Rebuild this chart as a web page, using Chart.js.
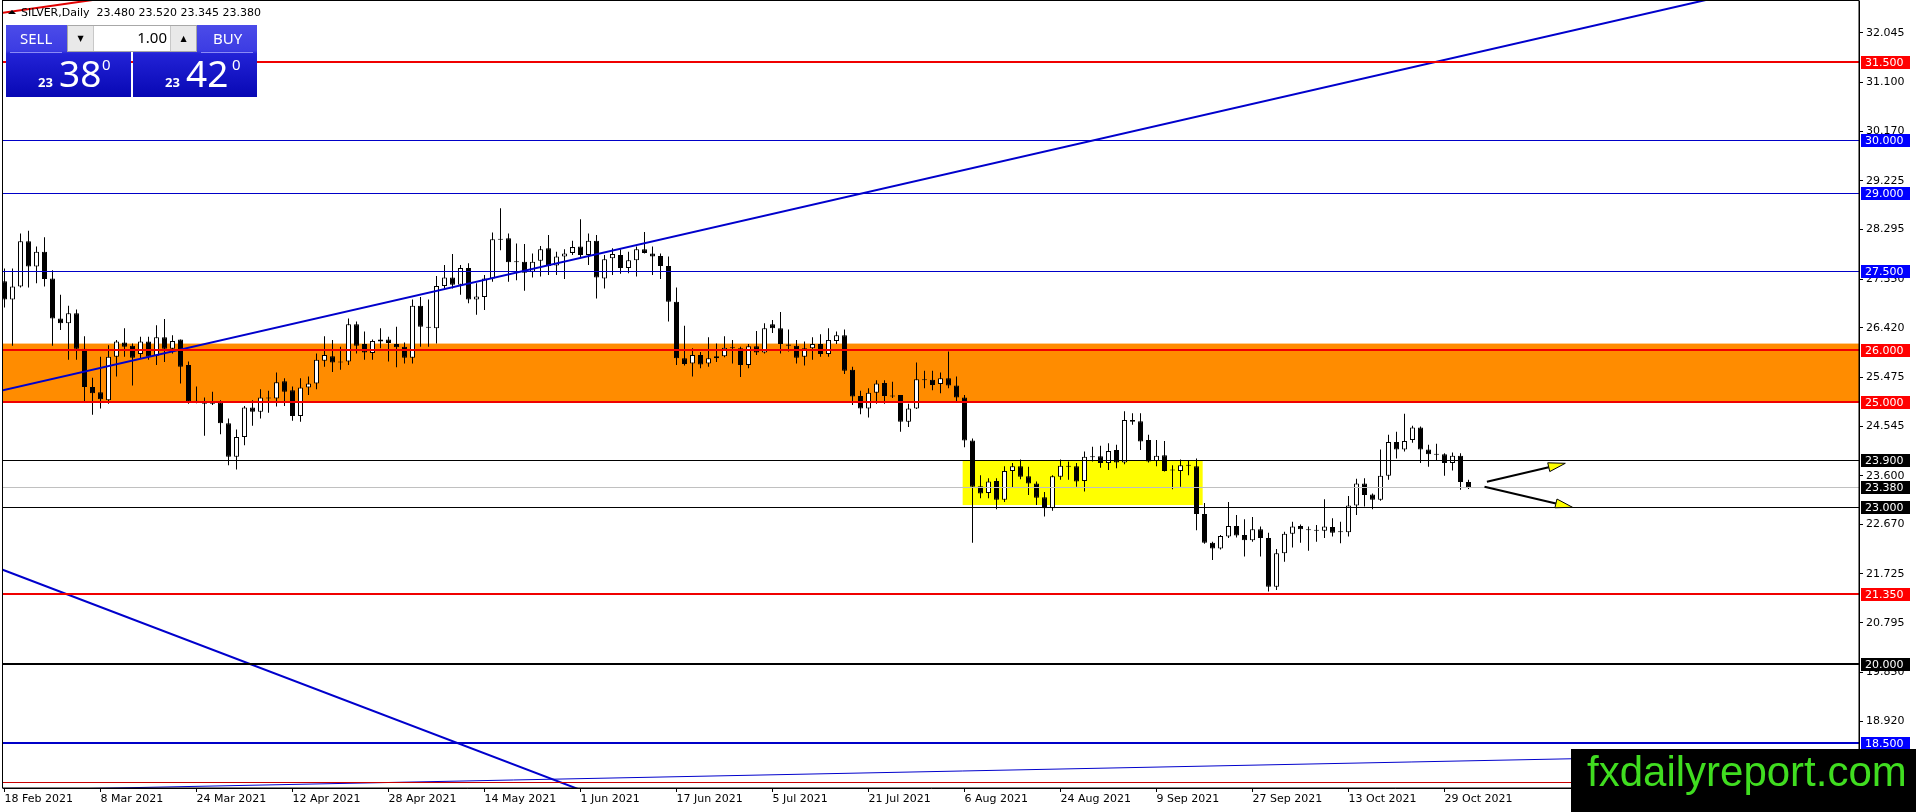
<!DOCTYPE html>
<html>
<head>
<meta charset="utf-8">
<title>SILVER, Daily</title>
<script src="https://cdn.jsdelivr.net/npm/chart.js"></script>
<style>
  body { margin: 0; background: #fff; }
  #wrap { position: relative; width: 1916px; height: 812px; overflow: hidden; background: #fff; }
  #chart { position: absolute; left: 0; top: 0; }
  .hdr { position: absolute; left: 21px; top: 7px; font: 11px/11px "DejaVu Sans", sans-serif; color: #000; white-space: pre; }
  .tri { position: absolute; left: 8px; top: 10px; width: 0; height: 0;
         border-left: 4px solid transparent; border-right: 4px solid transparent; border-bottom: 4px solid #000; }
  .btn { position: absolute; top: 25px; height: 72px;
         background: linear-gradient(to bottom, #4b4be9 0%, #3c3ce3 36%, #2222d6 40%, #0808b4 100%); }
  .btn .sep { position: absolute; top: 27px; height: 1px; background: #8a8af5; }
  .btn span { position: absolute; color: #fff; font-family: "Noto Sans", sans-serif; line-height: 1; white-space: pre; }
  .cap { font-size: 15px; color: #eef; }
  .small { font-size: 13px; font-weight: bold; }
  .big { font-size: 37px; }
  .sup { font-size: 15px; }
  .spin { position: absolute; left: 67px; top: 25px; width: 130px; height: 27px; box-sizing: border-box;
          border: 1px solid #a8a8a8; background: #fff; font-family: "Noto Sans", sans-serif; }
  .spin .b { position: absolute; top: 0; width: 25px; height: 25px; background: #e9e9e9;
             font: 8px/25px "DejaVu Sans", sans-serif; text-align: center; color: #000; }
  .spin .v { position: absolute; left: 26px; top: 4px; width: 73px; text-align: right; font-size: 15px; line-height: 1; color: #000; }
  .wm { position: absolute; left: 1571px; top: 749px; width: 345px; height: 63px; background: #000; }
  .wm span { position: absolute; left: 16px; top: 2px; font: 42px/42px "Liberation Sans", Arial, sans-serif; color: #40dd20; white-space: pre; }
</style>
</head>
<body>
<div id="wrap">
  <canvas id="chart" width="1916" height="812"></canvas>

  <div class="tri"></div>
  <div class="hdr">SILVER,Daily  23.480 23.520 23.345 23.380</div>

  <div class="btn" style="left:6px;width:125px">
    <div class="sep" style="left:4px;width:52px"></div>
    <span class="cap" style="left:14px;top:6px">SELL</span>
    <span class="small" style="left:32px;top:51px">23</span>
    <span class="big" style="left:53px;top:29px">38</span>
    <span class="sup" style="left:96px;top:32px">0</span>
  </div>
  <div class="btn" style="left:133px;width:124px">
    <div class="sep" style="left:68px;width:52px"></div>
    <span class="cap" style="left:80px;top:6px">BUY</span>
    <span class="small" style="left:32px;top:51px">23</span>
    <span class="big" style="left:53px;top:29px">42</span>
    <span class="sup" style="left:99px;top:32px">0</span>
  </div>
  <div class="spin">
    <div class="b" style="left:0;border-right:1px solid #c8c8c8">▼</div>
    <div class="v">1.00</div>
    <div class="b" style="right:0;border-left:1px solid #c8c8c8">▲</div>
  </div>

  <div class="wm"><span>fxdailyreport.com</span></div>
</div>

<script>
// Daily candles, bar 0 = 18 Feb 2021, last bar = 3 Nov 2021
const opens = [
  27.31, 26.96, 27.21, 28.07, 27.59, 27.87, 27.36, 26.60, 26.51, 26.70,
  26.02, 25.29, 25.19, 25.04, 25.87, 26.14, 26.08, 25.92, 26.16, 25.89,
  26.24, 26.02, 26.20, 25.71, 25.02, 25.01, 24.97, 25.00, 24.60, 23.96,
  24.34, 24.90, 24.82, 25.09, 25.07, 25.40, 25.23, 24.74, 25.28, 25.36,
  25.79, 25.88, 25.78, 25.78, 26.49, 26.11, 25.94, 26.16, 26.20, 26.11,
  26.06, 25.85, 26.84, 26.44, 26.41, 27.22, 27.38, 27.24, 27.56, 26.96,
  27.01, 27.36, 28.11, 28.13, 27.68, 27.68, 27.49, 27.70, 27.94, 27.61,
  27.78, 27.85, 27.97, 27.81, 28.08, 27.36, 27.75, 27.81, 27.56, 27.71,
  27.92, 27.84, 27.79, 27.60, 26.92, 25.84, 25.74, 25.90, 25.74, 25.84,
  25.88, 26.04, 26.03, 25.71, 26.07, 25.95, 26.49, 26.41, 26.10, 26.08,
  25.87, 26.03, 26.11, 25.92, 26.17, 26.28, 25.62, 25.12, 24.88, 25.18,
  25.37, 25.12, 25.14, 24.63, 24.88, 25.43, 25.43, 25.35, 25.46, 25.32,
  25.09, 24.27, 23.40, 23.27, 23.50, 23.14, 23.69, 23.78, 23.59, 23.45,
  23.19, 22.98, 23.58, 23.79, 23.78, 23.50, 23.96, 23.97, 23.84, 24.09,
  23.85, 24.66, 24.64, 24.28, 23.88, 23.99, 23.71, 23.69, 23.80, 23.78,
  22.87, 22.32, 22.21, 22.44, 22.64, 22.47, 22.37, 22.58, 22.41, 21.48,
  22.12, 22.49, 22.64, 22.57, 22.56, 22.55, 22.62, 22.53, 22.52, 23.03,
  23.45, 23.24, 23.14, 23.60, 24.24, 24.10, 24.28, 24.52, 24.10, 24.01,
  24.01, 23.84, 23.98, 23.48
];
const highs = [
  27.55, 27.55, 28.22, 28.27, 27.97, 28.15, 27.52, 27.05, 26.84, 26.77,
  26.26, 25.47, 25.87, 26.09, 26.19, 26.41, 26.12, 26.25, 26.25, 26.47,
  26.59, 26.28, 26.20, 25.78, 25.30, 25.09, 25.20, 25.04, 24.69, 24.48,
  24.93, 25.04, 25.25, 25.22, 25.57, 25.46, 25.30, 25.46, 25.49, 25.93,
  26.26, 26.19, 26.06, 26.60, 26.54, 26.35, 26.20, 26.41, 26.25, 26.44,
  26.14, 26.96, 27.01, 26.96, 27.41, 27.62, 27.83, 27.62, 27.65, 27.27,
  27.43, 28.24, 28.70, 28.22, 28.03, 28.02, 27.84, 27.98, 28.19, 27.87,
  27.92, 28.08, 28.49, 28.22, 28.19, 27.81, 27.94, 27.92, 27.87, 27.97,
  28.25, 27.97, 27.84, 27.78, 27.19, 26.46, 26.03, 25.96, 26.24, 26.12,
  26.26, 26.19, 26.06, 26.11, 26.36, 26.51, 26.57, 26.72, 26.39, 26.19,
  26.16, 26.24, 26.30, 26.41, 26.35, 26.39, 25.68, 25.22, 25.27, 25.42,
  25.42, 25.39, 25.14, 24.97, 25.76, 25.60, 25.60, 25.57, 25.97, 25.49,
  25.14, 24.31, 23.61, 23.55, 23.55, 23.78, 23.84, 23.91, 23.77, 23.49,
  23.29, 23.61, 23.91, 23.87, 23.84, 24.06, 24.15, 24.17, 24.22, 24.19,
  24.83, 24.79, 24.79, 24.38, 24.28, 24.26, 23.80, 23.91, 23.90, 23.93,
  23.08, 22.34, 22.47, 23.10, 22.85, 22.77, 22.81, 22.63, 22.51, 22.20,
  22.53, 22.72, 22.67, 22.63, 22.66, 23.15, 22.79, 22.72, 23.21, 23.54,
  23.55, 23.26, 24.10, 24.38, 24.44, 24.78, 24.55, 24.54, 24.19, 24.21,
  24.03, 24.04, 24.03, 23.52
];
const lows = [
  26.81, 26.08, 27.19, 27.19, 27.27, 27.21, 26.08, 26.38, 25.81, 25.81,
  25.01, 24.76, 24.88, 24.97, 25.49, 25.87, 25.32, 25.84, 25.81, 25.71,
  25.77, 25.93, 25.36, 24.97, 24.98, 24.36, 24.95, 24.39, 23.80, 23.72,
  24.18, 24.55, 24.69, 24.80, 24.92, 24.93, 24.65, 24.63, 25.14, 25.25,
  25.68, 25.58, 25.62, 25.71, 25.93, 25.81, 25.81, 26.03, 25.78, 25.67,
  25.74, 25.74, 26.06, 26.06, 26.12, 27.17, 27.17, 27.05, 26.89, 26.67,
  26.76, 27.30, 27.90, 27.30, 27.33, 27.13, 27.38, 27.40, 27.43, 27.43,
  27.35, 27.81, 27.75, 27.62, 26.98, 27.17, 27.43, 27.45, 27.46, 27.40,
  27.84, 27.43, 27.35, 26.54, 25.71, 25.70, 25.49, 25.65, 25.68, 25.77,
  25.86, 25.74, 25.48, 25.65, 25.90, 25.93, 26.32, 25.93, 25.97, 25.74,
  25.70, 25.81, 25.87, 25.87, 26.11, 25.54, 24.95, 24.77, 24.71, 24.97,
  24.97, 25.08, 24.44, 24.53, 24.87, 25.27, 25.23, 25.17, 25.27, 25.01,
  24.14, 22.32, 23.17, 23.17, 22.96, 23.10, 23.38, 23.53, 23.23, 23.04,
  22.82, 22.93, 23.52, 23.52, 23.39, 23.30, 23.87, 23.75, 23.71, 23.74,
  23.82, 24.57, 24.09, 23.85, 23.78, 23.68, 23.34, 23.39, 23.61, 22.56,
  22.30, 21.99, 22.19, 22.41, 22.42, 22.06, 22.34, 22.06, 21.39, 21.42,
  21.96, 22.23, 22.32, 22.17, 22.34, 22.41, 22.44, 22.31, 22.44, 22.85,
  23.01, 22.96, 23.12, 23.52, 23.93, 24.06, 24.23, 23.84, 23.77, 23.90,
  23.60, 23.70, 23.33, 23.345
];
const closes = [
  26.96, 27.21, 28.07, 27.59, 27.87, 27.35, 26.60, 26.51, 26.70, 26.02,
  25.29, 25.17, 25.06, 25.87, 26.16, 26.06, 25.85, 26.16, 25.87, 26.24,
  26.02, 26.17, 25.68, 25.01, 25.01, 24.97, 25.00, 24.60, 23.96, 24.34,
  24.90, 24.82, 25.09, 25.07, 25.38, 25.20, 24.74, 25.28, 25.36, 25.81,
  25.90, 25.76, 25.76, 26.49, 26.08, 25.95, 26.17, 26.20, 26.13, 26.05,
  25.85, 26.84, 26.44, 26.42, 27.22, 27.38, 27.24, 27.56, 26.96, 27.02,
  27.36, 28.11, 28.10, 27.67, 27.67, 27.47, 27.68, 27.92, 27.60, 27.78,
  27.84, 27.96, 27.81, 28.08, 27.38, 27.73, 27.83, 27.56, 27.71, 27.92,
  27.85, 27.78, 27.60, 26.92, 25.84, 25.73, 25.90, 25.72, 25.84, 25.88,
  26.04, 26.03, 25.71, 26.07, 25.95, 26.41, 26.41, 26.11, 26.08, 25.85,
  26.03, 26.11, 25.92, 26.19, 26.28, 25.60, 25.11, 24.88, 25.18, 25.36,
  25.12, 25.11, 24.63, 24.88, 25.44, 25.42, 25.33, 25.46, 25.32, 25.09,
  24.27, 23.39, 23.26, 23.49, 23.14, 23.69, 23.78, 23.58, 23.45, 23.18,
  22.98, 23.59, 23.79, 23.77, 23.49, 23.96, 23.95, 23.84, 24.07, 23.85,
  24.66, 24.63, 24.25, 23.87, 23.98, 23.69, 23.70, 23.80, 23.79, 22.87,
  22.32, 22.21, 22.45, 22.64, 22.46, 22.37, 22.58, 22.41, 21.48, 22.12,
  22.49, 22.63, 22.58, 22.56, 22.55, 22.63, 22.51, 22.52, 23.03, 23.45,
  23.23, 23.14, 23.60, 24.24, 24.10, 24.26, 24.52, 24.10, 24.01, 24.00,
  23.84, 23.98, 23.48, 23.38
];

// bottom axis: a date every 12 bars
const dateTicks = [0, 12, 24, 36, 48, 60, 72, 84, 96, 108, 120, 132, 144, 156, 168, 180];
const dateLabels = ['18 Feb 2021', '8 Mar 2021', '24 Mar 2021', '12 Apr 2021', '28 Apr 2021', '14 May 2021',
  '1 Jun 2021', '17 Jun 2021', '5 Jul 2021', '21 Jul 2021', '6 Aug 2021', '24 Aug 2021',
  '9 Sep 2021', '27 Sep 2021', '13 Oct 2021', '29 Oct 2021'];

// price axis ticks
const priceTicks = [32.045, 31.100, 30.170, 29.225, 28.295, 27.350, 26.420, 25.475, 24.545,
  23.600, 22.670, 21.725, 20.795, 19.850, 18.920];

// horizontal lines (last one has no price tag)
const levelPrices = [31.5, 30.0, 29.0, 27.5, 26.0, 25.0, 23.9, 23.38, 23.0, 21.35, 20.0, 18.5, 17.751];

// zones: [low, high] and [barFrom, barTo, low, high]
const orangeZone = [25.0, 26.12];
const yellowBox = [119.77, 149.77, 23.04, 23.89];

// trend lines and arrows as [bar, price] pairs
const trendRise = [[-0.5, 25.22], [232, 33.35]];
const trendFall = [[-0.3, 21.81], [80, 17.14]];
const trendBottom = [[0, 17.60], [232, 18.31]];
const trendRed = [[-0.3, 32.43], [15, 32.76]];
const arrowUp = [[185.3, 23.485], [195.1, 23.836]];
const arrowDown = [[185.0, 23.39], [196.0, 22.997]];

const levelStyle = [
  { color: '#f00000', width: 2, tag: '#ff0000' },
  { color: '#0000c8', width: 1, tag: '#0000ff' },
  { color: '#0000c8', width: 1, tag: '#0000ff' },
  { color: '#0000c8', width: 1, tag: '#0000ff' },
  { color: '#f00000', width: 2, tag: '#ff0000' },
  { color: '#f00000', width: 2, tag: '#ff0000' },
  { color: '#000000', width: 1, tag: '#000000' },
  { color: '#c0c0c0', width: 1, tag: '#000000' },
  { color: '#000000', width: 1, tag: '#000000' },
  { color: '#f00000', width: 2, tag: '#ff0000' },
  { color: '#000000', width: 2, tag: '#000000' },
  { color: '#0000c8', width: 2, tag: '#0000ff' },
  { color: '#c80000', width: 1, tag: null }
];

function toPoints(pairs) {
    return pairs.map(p => ({ x: p[0], y: p[1] }));
}

function trendSet(pairs, color, width) {
    return {
        type: 'line',
        data: toPoints(pairs),
        borderColor: color,
        borderWidth: width,
        pointRadius: 0,
        fill: false,
        order: 0
    };
}

function drawArrow(ctx, x, y, pair) {
    const x0 = x.getPixelForValue(pair[0][0]), y0 = y.getPixelForValue(pair[0][1]);
    const x1 = x.getPixelForValue(pair[1][0]), y1 = y.getPixelForValue(pair[1][1]);
    const ang = Math.atan2(y1 - y0, x1 - x0);
    const len = 17, half = 4.5;
    const bx = x1 - len * Math.cos(ang), by = y1 - len * Math.sin(ang);

    ctx.strokeStyle = '#000';
    ctx.lineWidth = 2;
    ctx.beginPath();
    ctx.moveTo(x0, y0);
    ctx.lineTo(bx, by);
    ctx.stroke();

    ctx.beginPath();
    ctx.moveTo(x1, y1);
    ctx.lineTo(bx + half * Math.sin(ang), by - half * Math.cos(ang));
    ctx.lineTo(bx - half * Math.sin(ang), by + half * Math.cos(ang));
    ctx.closePath();
    ctx.fillStyle = '#ffff00';
    ctx.fill();
    ctx.lineWidth = 1;
    ctx.stroke();
}

// rectangles, horizontal lines, arrows and price tags drawn like MT4 objects
const mtObjects = {
    id: 'mtObjects',
    beforeDatasetsDraw(chart) {
        const { ctx, chartArea: a, scales: { x, y } } = chart;
        ctx.save();
        ctx.beginPath();
        ctx.rect(a.left, a.top, a.right - a.left, a.bottom - a.top);
        ctx.clip();

        let top = y.getPixelForValue(orangeZone[1]);
        let bottom = y.getPixelForValue(orangeZone[0]);
        ctx.fillStyle = '#ff8c00';
        ctx.fillRect(a.left, top, a.right - a.left, bottom - top);

        const left = x.getPixelForValue(yellowBox[0]);
        const right = x.getPixelForValue(yellowBox[1]);
        top = y.getPixelForValue(yellowBox[3]);
        bottom = y.getPixelForValue(yellowBox[2]);
        ctx.fillStyle = '#ffff00';
        ctx.fillRect(left, top, right - left, bottom - top);
        ctx.restore();
    },
    afterDatasetsDraw(chart) {
        const { ctx, chartArea: a, scales: { x, y } } = chart;
        ctx.save();
        ctx.beginPath();
        ctx.rect(a.left, a.top, a.right - a.left, a.bottom - a.top);
        ctx.clip();

        levelPrices.forEach((v, i) => {
            const st = levelStyle[i];
            let py = Math.round(y.getPixelForValue(v));
            if (st.width % 2) py += 0.5;
            ctx.strokeStyle = st.color;
            ctx.lineWidth = st.width;
            ctx.beginPath();
            ctx.moveTo(a.left, py);
            ctx.lineTo(a.right, py);
            ctx.stroke();
        });

        drawArrow(ctx, x, y, arrowUp);
        drawArrow(ctx, x, y, arrowDown);
        ctx.restore();
    },
    afterDraw(chart) {
        const { ctx, chartArea: a, scales: { y } } = chart;
        ctx.save();
        ctx.strokeStyle = '#000';
        ctx.lineWidth = 1;
        ctx.strokeRect(a.left - 0.5, a.top - 0.5, a.right - a.left + 0.5, a.bottom - a.top + 0.5);

        ctx.font = '11px "DejaVu Sans"';
        ctx.textBaseline = 'middle';
        ctx.textAlign = 'left';
        levelPrices.forEach((v, i) => {
            const st = levelStyle[i];
            if (!st.tag) return;
            const py = Math.round(y.getPixelForValue(v));
            ctx.fillStyle = st.tag;
            ctx.fillRect(a.right + 2, py - 6, 49, 13);
            ctx.fillStyle = '#fff';
            ctx.fillText(v.toFixed(3), a.right + 6, py + 1);
        });
        ctx.restore();
    }
};

function bodyColor(c) {
    const i = c.dataIndex;
    const o = opens[i], cl = closes[i];
    if (Math.abs(cl - o) < 0.045) return '#000';
    return cl > o ? '#fff' : '#000';
}

function initChart() {
    const ctx = document.getElementById('chart').getContext('2d');
    const axisFont = { family: 'DejaVu Sans', size: 11 };

    new Chart(ctx, {
        type: 'bar',
        data: {
            datasets: [
                trendSet(trendRise, '#0000cc', 2),
                trendSet(trendFall, '#0000cc', 2),
                trendSet(trendBottom, '#0000cc', 1),
                trendSet(trendRed, '#e00000', 2),
                {
                    label: 'bodies',
                    data: opens.map((o, i) => ({ x: i, y: [o, closes[i]] })),
                    backgroundColor: bodyColor,
                    borderColor: '#000',
                    borderWidth: 1,
                    borderSkipped: false,
                    inflateAmount: 0,
                    minBarLength: 1,
                    barThickness: 5,
                    grouped: false,
                    order: 1
                },
                {
                    label: 'wicks',
                    data: lows.map((l, i) => ({ x: i, y: [l, highs[i]] })),
                    backgroundColor: '#000',
                    borderWidth: 0,
                    inflateAmount: 0,
                    barThickness: 1,
                    grouped: false,
                    order: 2
                }
            ]
        },
        options: {
            responsive: false,
            animation: false,
            devicePixelRatio: 1,
            layout: { padding: { left: 3, top: 1, right: 0, bottom: 0 } },
            plugins: {
                legend: { display: false },
                tooltip: { enabled: false }
            },
            scales: {
                x: {
                    type: 'linear',
                    min: -0.1875,
                    max: 231.8125,
                    offset: false,
                    afterBuildTicks: s => { s.ticks = dateTicks.map(v => ({ value: v })); },
                    afterFit: s => { s.height = 24; s.paddingLeft = 0; s.paddingRight = 0; },
                    grid: { drawOnChartArea: false, offset: false, tickLength: 4, color: '#000' },
                    border: { color: '#000' },
                    ticks: {
                        autoSkip: false,
                        maxRotation: 0,
                        align: 'start',
                        padding: 1,
                        color: '#000',
                        font: axisFont,
                        callback: (v, i) => dateLabels[i]
                    }
                },
                y: {
                    type: 'linear',
                    position: 'right',
                    min: 17.642,
                    max: 32.655,
                    afterBuildTicks: s => { s.ticks = priceTicks.map(v => ({ value: v })); },
                    afterFit: s => { s.width = 57; s.paddingTop = 0; s.paddingBottom = 0; },
                    grid: { drawOnChartArea: false, tickLength: 4, color: '#000' },
                    border: { color: '#000' },
                    ticks: {
                        autoSkip: false,
                        padding: 3,
                        color: '#000',
                        font: axisFont,
                        callback: v => v.toFixed(3)
                    }
                }
            }
        },
        plugins: [mtObjects]
    });
}

document.addEventListener('DOMContentLoaded', initChart);
</script>
</body>
</html>
